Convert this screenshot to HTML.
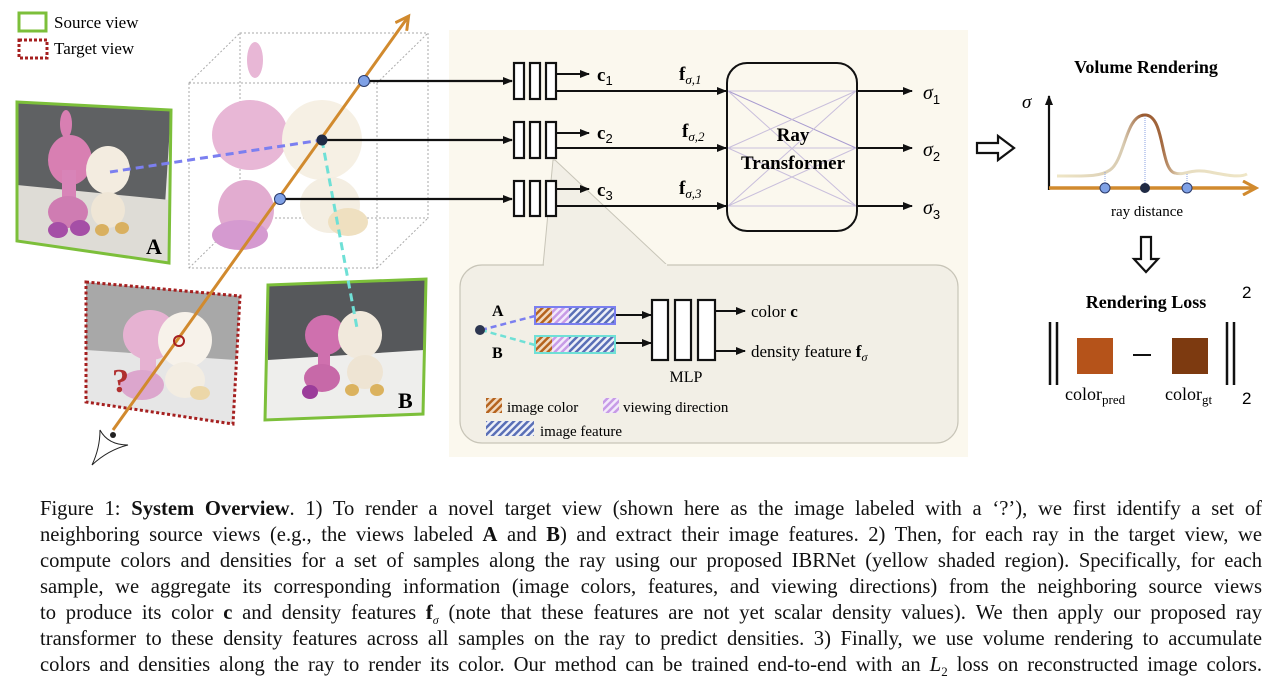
<!DOCTYPE html>
<html><head><meta charset="utf-8"><style>
html,body{margin:0;padding:0;background:#fff;width:1280px;height:692px;overflow:hidden}
svg{position:absolute;left:0;top:0}
.cap{position:absolute;left:40px;top:496px;width:1222px;font-family:"Liberation Serif",serif;font-size:20.6px;color:#111}
.cap div{height:26px;line-height:26px;text-align:justify;text-align-last:justify;white-space:nowrap}
i{font-style:italic}
</style></head><body>
<svg width="1280" height="692" viewBox="0 0 1280 692" font-family="Liberation Serif, serif">
<defs>
<marker id="ah" markerWidth="10" markerHeight="8" refX="9" refY="4" orient="auto" markerUnits="userSpaceOnUse"><path d="M0,0 L10,4 L0,8 Z" fill="#111"/></marker>
<marker id="oh" markerWidth="18" markerHeight="16" refX="14" refY="8" orient="auto" markerUnits="userSpaceOnUse"><path d="M2,1 L15,8 L2,15" fill="none" stroke="#d18a2e" stroke-width="3"/></marker>
<pattern id="pc" width="5" height="5" patternUnits="userSpaceOnUse" patternTransform="rotate(45)"><rect width="5" height="5" fill="#f0d9c0"/><rect width="2.5" height="5" fill="#b5631e"/></pattern>
<pattern id="pv" width="5" height="5" patternUnits="userSpaceOnUse" patternTransform="rotate(45)"><rect width="5" height="5" fill="#f3e9fb"/><rect width="2.5" height="5" fill="#c79be6"/></pattern>
<pattern id="pf" width="5" height="5" patternUnits="userSpaceOnUse" patternTransform="rotate(45)"><rect width="5" height="5" fill="#eef0f8"/><rect width="2.5" height="5" fill="#5a6fb6"/></pattern>
<linearGradient id="cg" x1="0" x2="1"><stop offset="0" stop-color="#efe6c6"/><stop offset="0.35" stop-color="#d8cbb2"/><stop offset="0.45" stop-color="#9a5a30"/><stop offset="0.55" stop-color="#a3683e"/><stop offset="0.65" stop-color="#e6dcc0"/><stop offset="1" stop-color="#efe6c6"/></linearGradient>
<clipPath id="clA"><polygon points="17,102 171,110 169,263 17,241"/></clipPath>
<clipPath id="clT"><polygon points="86,282 240,296 233,424 86,402"/></clipPath>
<clipPath id="clB"><polygon points="268,285 426,279 423,414 265,420"/></clipPath>
</defs>

<rect x="19" y="13" width="27" height="18" fill="none" stroke="#7cbf3a" stroke-width="3"/>
<text x="54" y="28" font-size="17">Source view</text>
<rect x="19" y="40" width="28" height="18" fill="none" stroke="#a51f1f" stroke-width="3" stroke-dasharray="3,2"/>
<text x="54" y="54" font-size="17">Target view</text>

<rect x="449" y="30" width="519" height="427" fill="#fbf8ee"/>

<g stroke="#aaa" stroke-width="1" stroke-dasharray="2,2" fill="none">
<rect x="189" y="83" width="188" height="185"/>
<rect x="240" y="33" width="188" height="185"/>
<line x1="189" y1="83" x2="240" y2="33"/><line x1="377" y1="83" x2="428" y2="33"/>
<line x1="377" y1="268" x2="428" y2="218"/><line x1="189" y1="268" x2="240" y2="218"/>
</g>
<ellipse cx="250" cy="135" rx="38" ry="35" fill="#e8b7d6"/>
<ellipse cx="246" cy="210" rx="28" ry="30" fill="#e2acd0"/>
<ellipse cx="240" cy="235" rx="28" ry="15" fill="#d59ad0"/>
<ellipse cx="255" cy="60" rx="8" ry="18" fill="#e8b7d6"/>
<ellipse cx="322" cy="140" rx="40" ry="40" fill="#f6f0e4"/>
<ellipse cx="330" cy="205" rx="30" ry="28" fill="#f4eee2"/>
<ellipse cx="348" cy="222" rx="20" ry="14" fill="#efe0c0"/>

<g clip-path="url(#clA)">
<rect x="10" y="100" width="170" height="170" fill="#e9e7e3"/>
<polygon points="17,102 171,110 165,205 17,190" fill="#5f6163"/>
<polygon points="17,185 170,200 170,270 17,270" fill="#dedcd6"/>
<ellipse cx="70" cy="160" rx="22" ry="25" fill="#d87fb2"/>
<rect x="62" y="170" width="14" height="40" fill="#d884b8"/>
<ellipse cx="68" cy="212" rx="20" ry="16" fill="#cf7cb2"/>
<ellipse cx="58" cy="230" rx="10" ry="8" fill="#a54fa6"/>
<ellipse cx="80" cy="228" rx="10" ry="8" fill="#a54fa6"/>
<ellipse cx="66" cy="124" rx="6" ry="14" fill="#d87fb2"/>
<ellipse cx="108" cy="170" rx="22" ry="24" fill="#f3ece0"/>
<ellipse cx="108" cy="210" rx="17" ry="18" fill="#efe6d6"/>
<ellipse cx="102" cy="230" rx="7" ry="6" fill="#d9b060"/>
<ellipse cx="122" cy="228" rx="7" ry="6" fill="#d9b060"/>
</g>
<polygon points="17,102 171,110 169,263 17,241" fill="none" stroke="#7cbf3a" stroke-width="3"/>
<text x="146" y="254" font-size="22" font-weight="bold">A</text>

<g clip-path="url(#clT)">
<rect x="80" y="280" width="170" height="150" fill="#e6e6e6"/>
<polygon points="86,282 240,296 236,360 86,350" fill="#a8a8a8"/>
<ellipse cx="150" cy="335" rx="27" ry="25" fill="#e6b2d2"/>
<rect x="140" y="350" width="16" height="40" fill="#e6b2d2"/>
<ellipse cx="142" cy="385" rx="22" ry="15" fill="#dca6cd"/>
<ellipse cx="185" cy="340" rx="27" ry="28" fill="#f7f2ea"/>
<ellipse cx="185" cy="380" rx="20" ry="18" fill="#f3ede2"/>
<ellipse cx="200" cy="393" rx="10" ry="7" fill="#ecd7a8"/>
<text x="112" y="392" font-size="34" font-weight="bold" fill="#b03030">?</text>
</g>
<polygon points="86,282 240,296 233,424 86,402" fill="none" stroke="#a51f1f" stroke-width="3" stroke-dasharray="3,2.5"/>

<g clip-path="url(#clB)">
<rect x="260" y="278" width="170" height="145" fill="#eeeeec"/>
<polygon points="268,285 426,279 424,350 268,360" fill="#56585b"/>
<ellipse cx="325" cy="335" rx="20" ry="20" fill="#cf70ae"/>
<rect x="318" y="345" width="12" height="35" fill="#cf70ae"/>
<ellipse cx="322" cy="378" rx="18" ry="14" fill="#c769a8"/>
<ellipse cx="310" cy="392" rx="8" ry="7" fill="#9b3c9a"/>
<ellipse cx="360" cy="335" rx="22" ry="24" fill="#f1e9dc"/>
<ellipse cx="365" cy="372" rx="18" ry="17" fill="#eee4d3"/>
<ellipse cx="352" cy="390" rx="7" ry="6" fill="#dbb25e"/>
<ellipse cx="377" cy="390" rx="7" ry="6" fill="#dbb25e"/>
</g>
<polygon points="268,285 426,279 423,414 265,420" fill="none" stroke="#7cbf3a" stroke-width="3"/>
<text x="398" y="408" font-size="22" font-weight="bold">B</text>

<line x1="110" y1="172" x2="322" y2="140" stroke="#7b7ff0" stroke-width="3" stroke-dasharray="8,5"/>
<line x1="322" y1="140" x2="357" y2="328" stroke="#6fe0d6" stroke-width="3" stroke-dasharray="8,5"/>

<line x1="113" y1="430" x2="408" y2="17" stroke="#d18a2e" stroke-width="3" marker-end="url(#oh)"/>
<circle cx="179" cy="341" r="5" fill="none" stroke="#a51f1f" stroke-width="2"/>
<path d="M100,430 Q108,445 128,445 Q108,450 92,465 Q100,448 100,430 Z" fill="#fff" stroke="#222" stroke-width="1"/>
<circle cx="113" cy="435" r="3" fill="#222"/>

<g stroke="#111" stroke-width="2.2">
<line x1="364" y1="81" x2="512" y2="81" marker-end="url(#ah)"/>
<line x1="322" y1="140" x2="512" y2="140" marker-end="url(#ah)"/>
<line x1="280" y1="199" x2="512" y2="199" marker-end="url(#ah)"/>
</g>
<circle cx="364" cy="81" r="5.5" fill="#7fa1e6" stroke="#2a3a6a" stroke-width="1"/>
<circle cx="322" cy="140" r="5.5" fill="#1f2a45"/>
<circle cx="280" cy="199" r="5.5" fill="#7fa1e6" stroke="#2a3a6a" stroke-width="1"/>

<polygon points="553,160 543,266 668,266 555,160" fill="#f2efe6" stroke="#c8c5b8" stroke-width="1"/>
<rect x="460" y="265" width="498" height="178" rx="22" fill="#f2efe6" stroke="#c8c5b8" stroke-width="1.2"/>
<rect x="544" y="264" width="123" height="3" fill="#f2efe6"/>

<g fill="#fff" stroke="#111" stroke-width="2.2">
<rect x="514" y="63" width="10" height="36"/><rect x="530" y="63" width="10" height="36"/><rect x="546" y="63" width="10" height="36"/>
<rect x="514" y="122" width="10" height="36"/><rect x="530" y="122" width="10" height="36"/><rect x="546" y="122" width="10" height="36"/>
<rect x="514" y="181" width="10" height="35"/><rect x="530" y="181" width="10" height="35"/><rect x="546" y="181" width="10" height="35"/>
</g>
<g stroke="#111" stroke-width="2">
<line x1="557" y1="74" x2="589" y2="74" marker-end="url(#ah)"/>
<line x1="557" y1="91" x2="726" y2="91" marker-end="url(#ah)"/>
<line x1="557" y1="133" x2="589" y2="133" marker-end="url(#ah)"/>
<line x1="557" y1="148" x2="726" y2="148" marker-end="url(#ah)"/>
<line x1="557" y1="189" x2="589" y2="189" marker-end="url(#ah)"/>
<line x1="557" y1="206" x2="726" y2="206" marker-end="url(#ah)"/>
<line x1="857" y1="91" x2="912" y2="91" marker-end="url(#ah)"/>
<line x1="857" y1="148" x2="912" y2="148" marker-end="url(#ah)"/>
<line x1="857" y1="206" x2="912" y2="206" marker-end="url(#ah)"/>
</g>
<g font-size="19" font-weight="bold">
<text x="597" y="81">c<tspan font-size="13" font-weight="normal" font-family="Liberation Sans" dy="4">1</tspan></text>
<text x="597" y="139">c<tspan font-size="13" font-weight="normal" font-family="Liberation Sans" dy="4">2</tspan></text>
<text x="597" y="196">c<tspan font-size="13" font-weight="normal" font-family="Liberation Sans" dy="4">3</tspan></text>
<text x="679" y="80">f<tspan font-size="13" font-weight="normal" font-style="italic" dy="4">σ,1</tspan></text>
<text x="682" y="137">f<tspan font-size="13" font-weight="normal" font-style="italic" dy="4">σ,2</tspan></text>
<text x="679" y="194">f<tspan font-size="13" font-weight="normal" font-style="italic" dy="4">σ,3</tspan></text>
</g>
<g stroke="#c9bfdc" stroke-width="1">
<line x1="728" y1="91" x2="856" y2="91"/><line x1="728" y1="148" x2="856" y2="148"/><line x1="728" y1="206" x2="856" y2="206"/>
<line x1="728" y1="91" x2="856" y2="148" stroke="#a99cd0"/><line x1="728" y1="91" x2="856" y2="206"/>
<line x1="728" y1="148" x2="856" y2="91"/><line x1="728" y1="148" x2="856" y2="206"/>
<line x1="728" y1="206" x2="856" y2="91"/><line x1="728" y1="206" x2="856" y2="148"/>
</g>
<rect x="727" y="63" width="130" height="168" rx="20" fill="none" stroke="#111" stroke-width="2"/>
<text x="793" y="141" font-size="19" font-weight="bold" text-anchor="middle">Ray</text>
<text x="793" y="169" font-size="19" font-weight="bold" text-anchor="middle">Transformer</text>
<g font-size="20" font-style="italic">
<text x="923" y="99">σ<tspan font-size="13" font-style="normal" font-family="Liberation Sans" dy="5">1</tspan></text>
<text x="923" y="156">σ<tspan font-size="13" font-style="normal" font-family="Liberation Sans" dy="5">2</tspan></text>
<text x="923" y="214">σ<tspan font-size="13" font-style="normal" font-family="Liberation Sans" dy="5">3</tspan></text>
</g>

<text x="492" y="316" font-size="16" font-weight="bold">A</text>
<text x="492" y="358" font-size="16" font-weight="bold">B</text>
<line x1="481" y1="330" x2="535" y2="316" stroke="#7b7ff0" stroke-width="2.5" stroke-dasharray="6,4"/>
<line x1="481" y1="330" x2="535" y2="345" stroke="#6fe0d6" stroke-width="2.5" stroke-dasharray="6,4"/>
<circle cx="480" cy="330" r="5" fill="#2d3650"/>
<rect x="535" y="307" width="80" height="17" fill="url(#pf)"/><rect x="536" y="308" width="16" height="15" fill="url(#pc)"/><rect x="552" y="308" width="17" height="15" fill="url(#pv)"/>
<rect x="535" y="307" width="80" height="17" fill="none" stroke="#7b7ff0" stroke-width="2"/>
<rect x="535" y="336" width="80" height="17" fill="url(#pf)"/><rect x="536" y="337" width="16" height="15" fill="url(#pc)"/><rect x="552" y="337" width="17" height="15" fill="url(#pv)"/>
<rect x="535" y="336" width="80" height="17" fill="none" stroke="#6fe0d6" stroke-width="2"/>
<g stroke="#111" stroke-width="2">
<line x1="616" y1="315" x2="651" y2="315" marker-end="url(#ah)"/>
<line x1="616" y1="343" x2="651" y2="343" marker-end="url(#ah)"/>
<line x1="716" y1="311" x2="745" y2="311" marker-end="url(#ah)"/>
<line x1="716" y1="351" x2="745" y2="351" marker-end="url(#ah)"/>
</g>
<g fill="#fff" stroke="#111" stroke-width="2.2">
<rect x="652" y="300" width="16" height="60"/><rect x="675" y="300" width="16" height="60"/><rect x="698" y="300" width="17" height="60"/>
</g>
<text x="751" y="317" font-size="17">color <tspan font-weight="bold">c</tspan></text>
<text x="751" y="357" font-size="17">density feature <tspan font-weight="bold">f</tspan><tspan font-size="12" font-style="italic" dy="4">σ</tspan></text>
<text x="686" y="382" font-size="16" text-anchor="middle">MLP</text>
<rect x="486" y="398" width="16" height="15" fill="url(#pc)"/>
<text x="507" y="412" font-size="15">image color</text>
<rect x="603" y="398" width="16" height="15" fill="url(#pv)"/>
<text x="623" y="412" font-size="15">viewing direction</text>
<rect x="486" y="421" width="48" height="15" fill="url(#pf)"/>
<text x="540" y="436" font-size="15">image feature</text>

<path d="M977,143 L998,143 L998,136 L1014,148 L998,160 L998,153 L977,153 Z" fill="#fff" stroke="#111" stroke-width="2.2"/>

<text x="1146" y="73" font-size="18" font-weight="bold" text-anchor="middle">Volume Rendering</text>
<text x="1022" y="108" font-size="19" font-style="italic">σ</text>
<line x1="1049" y1="190" x2="1049" y2="96" stroke="#111" stroke-width="2.2" marker-end="url(#ah)"/>
<path d="M1057,176 C1085,176 1100,177 1110,170 C1125,160 1125,115 1145,115 C1165,115 1160,170 1175,173 C1185,176 1190,168 1210,172 C1225,175 1240,178 1247,174" fill="none" stroke="url(#cg)" stroke-width="3"/>
<g stroke="#8aa2e0" stroke-width="1" stroke-dasharray="1,1"><line x1="1105" y1="172" x2="1105" y2="188"/><line x1="1145" y1="116" x2="1145" y2="188"/><line x1="1187" y1="174" x2="1187" y2="188"/></g>
<line x1="1049" y1="188" x2="1255" y2="188" stroke="#d18a2e" stroke-width="3.5" marker-end="url(#oh)"/>
<circle cx="1105" cy="188" r="5" fill="#7fa1e6" stroke="#2a3a6a" stroke-width="1"/>
<circle cx="1145" cy="188" r="5" fill="#1f2a45"/>
<circle cx="1187" cy="188" r="5" fill="#7fa1e6" stroke="#2a3a6a" stroke-width="1"/>
<text x="1147" y="216" font-size="15" text-anchor="middle">ray distance</text>
<path d="M1141,237 L1151,237 L1151,259 L1158,259 L1146,272 L1134,259 L1141,259 Z" fill="#fff" stroke="#111" stroke-width="2.2"/>
<text x="1146" y="308" font-size="18" font-weight="bold" text-anchor="middle">Rendering Loss</text>
<g stroke="#111" stroke-width="2.5">
<line x1="1050" y1="322" x2="1050" y2="385"/><line x1="1057" y1="322" x2="1057" y2="385"/>
<line x1="1227" y1="322" x2="1227" y2="385"/><line x1="1234" y1="322" x2="1234" y2="385"/>
<line x1="1133" y1="355" x2="1151" y2="355" stroke-width="2"/>
</g>
<rect x="1077" y="338" width="36" height="36" fill="#b5531a"/>
<rect x="1172" y="338" width="36" height="36" fill="#7d3a10"/>
<text x="1242" y="298" font-size="17" font-family="Liberation Sans">2</text>
<text x="1242" y="404" font-size="17" font-family="Liberation Sans">2</text>
<text x="1065" y="400" font-size="18">color<tspan font-size="13" dy="4">pred</tspan></text>
<text x="1165" y="400" font-size="18">color<tspan font-size="13" dy="4">gt</tspan></text>
</svg>

<div class="cap">
<div>Figure 1: <b>System Overview</b>. 1) To render a novel target view (shown here as the image labeled with a ‘?’), we first identify a set of</div>
<div>neighboring source views (e.g., the views labeled <b>A</b> and <b>B</b>) and extract their image features. 2) Then, for each ray in the target view, we</div>
<div>compute colors and densities for a set of samples along the ray using our proposed IBRNet (yellow shaded region). Specifically, for each</div>
<div>sample, we aggregate its corresponding information (image colors, features, and viewing directions) from the neighboring source views</div>
<div>to produce its color <b>c</b> and density features <b>f</b><sub style="font-size:12px"><i>σ</i></sub> (note that these features are not yet scalar density values). We then apply our proposed ray</div>
<div>transformer to these density features across all samples on the ray to predict densities. 3) Finally, we use volume rendering to accumulate</div>
<div>colors and densities along the ray to render its color. Our method can be trained end-to-end with an <i>L</i><sub style="font-size:13px">2</sub> loss on reconstructed image colors.</div>
</div>
</body></html>
